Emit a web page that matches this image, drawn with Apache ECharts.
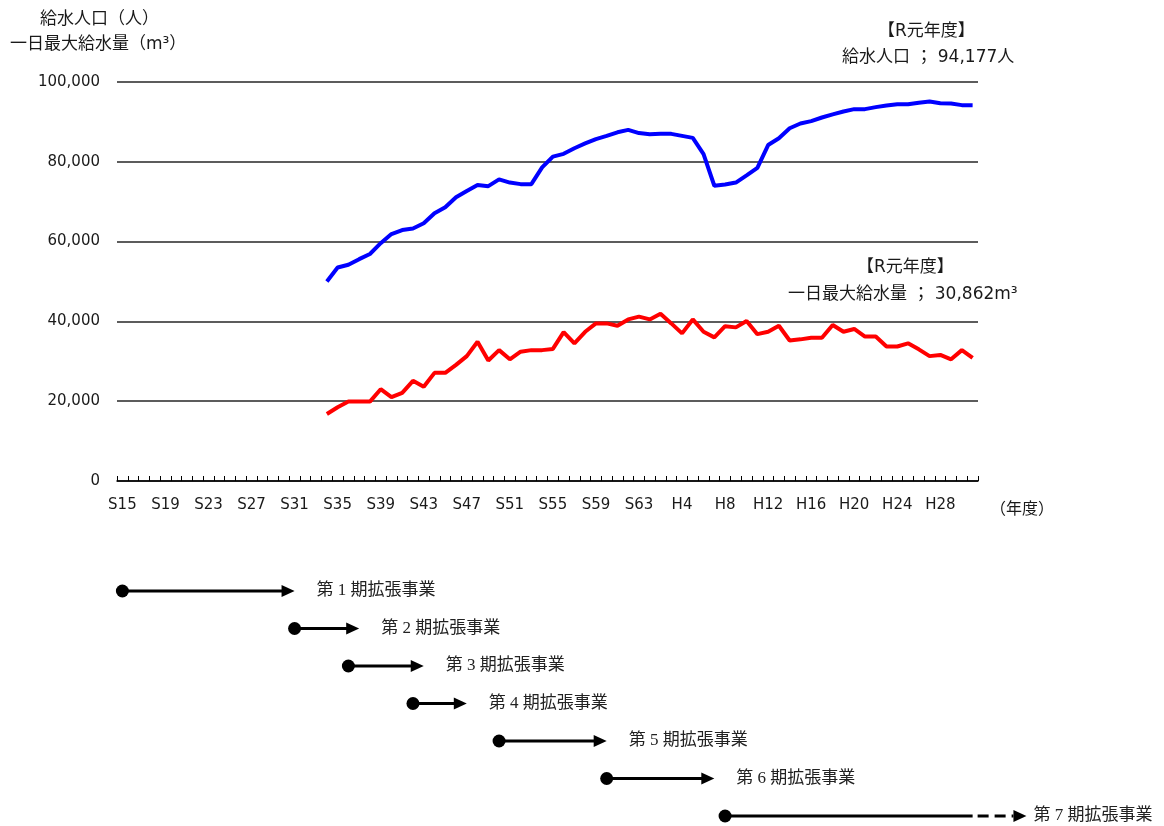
<!DOCTYPE html>
<html>
<head>
<meta charset="utf-8">
<script src="https://cdn.jsdelivr.net/npm/echarts@6/dist/echarts.min.js"></script>
<style>
html,body{margin:0;padding:0;background:#fff;}
#chart{width:1164px;height:826px;}
</style>
</head>
<body>
<div id="chart"></div>
<script>
// ---- categories (fiscal years S15 = 1940 ... R1 = 2019) ----
const categories = [
 'S15','S16','S17','S18','S19','S20','S21','S22','S23','S24',
 'S25','S26','S27','S28','S29','S30','S31','S32','S33','S34',
 'S35','S36','S37','S38','S39','S40','S41','S42','S43','S44',
 'S45','S46','S47','S48','S49','S50','S51','S52','S53','S54',
 'S55','S56','S57','S58','S59','S60','S61','S62','S63','H1',
 'H2','H3','H4','H5','H6','H7','H8','H9','H10','H11',
 'H12','H13','H14','H15','H16','H17','H18','H19','H20','H21',
 'H22','H23','H24','H25','H26','H27','H28','H29','H30','R1'
];
const firstYear = 1940;
const dataStartYear = 1959; // S34

// 給水人口（人）, S34 .. R1
const population = [
 50000, 53500, 54200, 55600, 56900, 59600, 61900, 62900, 63300, 64600,
 67100, 68600, 71100, 72700, 74200, 73900, 75600, 74800, 74400, 74400,
 78600, 81300, 82000, 83400, 84600, 85700, 86500, 87400, 88000, 87200,
 86900, 87000, 87000, 86500, 86000, 81900, 74000, 74300, 74800, 76600,
 78500, 84200, 85900, 88400, 89600, 90200, 91100, 91900, 92600, 93200,
 93200, 93700, 94100, 94400, 94400, 94800, 95100, 94700, 94600, 94200,
 94177
];
// 一日最大給水量（m3）, S34 .. R1
const maxDaily = [
 16800, 18500, 19900, 19900, 19900, 23000, 21000, 22100, 25100, 23600,
 27100, 27100, 29100, 31300, 34900, 30200, 32800, 30500, 32400, 32800,
 32800, 33100, 37300, 34500, 37400, 39500, 39500, 38900, 40500, 41200,
 40500, 41900, 39500, 37000, 40500, 37400, 36000, 38800, 38500, 40100,
 36800, 37400, 38900, 35200, 35500, 35900, 35900, 39100, 37400, 38100,
 36200, 36200, 33700, 33700, 34500, 33000, 31300, 31600, 30500, 32800,
 30862
];
const yTicks = [0, 20000, 40000, 60000, 80000, 100000];

// 拡張事業 timeline
const projectNames = ['第 1 期拡張事業','第 2 期拡張事業','第 3 期拡張事業','第 4 期拡張事業','第 5 期拡張事業','第 6 期拡張事業','第 7 期拡張事業'];
const projectStart = [1940, 1956, 1961, 1967, 1975, 1985, 1996];
const projectEnd   = [1956, 1962, 1968, 1972, 1985, 1995, 2019];
const projectPlannedEnd = [null, null, null, null, null, null, 2024];

// ---- build series data ----
const pad = Array(dataStartYear - firstYear).fill(null);
const popData = pad.concat(population);
const maxData = pad.concat(maxDaily);
const timelineData = projectNames.map((n, i) => [projectStart[i], projectEnd[i], i]);

const JP = '"DejaVu Sans", "Noto Sans CJK JP", sans-serif';
const NUM = '"DejaVu Sans", "Noto Sans CJK JP", sans-serif';
const TXT = '#1a1a1a';

const chart = echarts.init(document.getElementById('chart'));
chart.setOption({
  animation: false,
  backgroundColor: '#fff',
  grid: [
    {left: 117, right: 186, top: 82, bottom: 345},
    {left: 117, right: 186, top: 591, bottom: 10}
  ],
  xAxis: [
    {
      type: 'category', gridIndex: 0, data: categories, boundaryGap: true,
      axisLine: {show: true, lineStyle: {color: '#000', width: 1.5}},
      axisTick: {show: true, inside: true, length: 5, interval: 0, alignWithLabel: false,
        lineStyle: {color: '#000', width: 1}},
      axisLabel: {interval: 3, margin: 17, fontSize: 15, color: TXT, fontFamily: NUM}
    },
    {type: 'value', gridIndex: 1, min: firstYear - 0.5, max: firstYear + categories.length - 0.5, show: false}
  ],
  yAxis: [
    {
      type: 'value', gridIndex: 0, min: yTicks[0], max: yTicks[yTicks.length - 1],
      interval: yTicks[1] - yTicks[0],
      axisLine: {show: false}, axisTick: {show: false},
      splitLine: {lineStyle: {color: '#262626', width: 1.5}},
      axisLabel: {margin: 17, fontSize: 15, color: TXT, fontFamily: NUM,
        formatter: v => v.toLocaleString('en-US')}
    },
    {type: 'value', gridIndex: 1, min: 0, max: projectNames.length - 1, inverse: true, show: false}
  ],
  series: [
    {
      name: '給水人口', type: 'line', xAxisIndex: 0, yAxisIndex: 0, data: popData,
      symbol: 'none', connectNulls: false,
      lineStyle: {color: '#0000ff', width: 4}, z: 3
    },
    {
      name: '一日最大給水量', type: 'line', xAxisIndex: 0, yAxisIndex: 0, data: maxData,
      symbol: 'none', connectNulls: false,
      lineStyle: {color: '#ff0000', width: 4}, z: 3
    },
    {
      type: 'custom', xAxisIndex: 1, yAxisIndex: 1, clip: false,
      data: timelineData,
      encode: {x: [0, 1], y: 2},
      renderItem: function (params, api) {
        const i = params.dataIndex;
        const row = api.value(2);
        const p0 = api.coord([api.value(0), row]);
        const p1 = api.coord([api.value(1), row]);
        const y = p0[1];
        const planned = projectPlannedEnd[i];
        const tip = planned != null ? api.coord([planned, row])[0] : p1[0];
        const AL = 13, AH = 6;
        const children = [];
        const ls = {stroke: '#000', lineWidth: 3};
        if (planned != null) {
          children.push({type: 'line', shape: {x1: p0[0], y1: y, x2: p1[0], y2: y}, style: ls});
          children.push({type: 'line', shape: {x1: p1[0] + 5, y1: y, x2: tip - AL, y2: y},
            style: {stroke: '#000', lineWidth: 3, lineDash: [11, 6]}});
        } else {
          children.push({type: 'line', shape: {x1: p0[0], y1: y, x2: tip - AL + 1, y2: y}, style: ls});
        }
        children.push({type: 'circle', shape: {cx: p0[0], cy: y, r: 6.5}, style: {fill: '#000'}});
        children.push({type: 'polygon', shape: {points: [[tip - AL, y - AH], [tip, y], [tip - AL, y + AH]]}, style: {fill: '#000'}});
        children.push({type: 'text', x: tip + (planned != null ? 7 : 22), y: y,
          style: {text: projectNames[i], fill: '#222', font: '17px "Liberation Serif", "Noto Sans CJK JP", serif',
            textAlign: 'left', textVerticalAlign: 'middle'}});
        return {type: 'group', children: children};
      }
    }
  ],
  graphic: [
    {type: 'text', left: 40, top: 11, style: {text: '給水人口（人）', font: '17px ' + JP, fill: TXT}},
    {type: 'text', left: 10, top: 36, style: {text: '一日最大給水量（m³）', font: '17px ' + JP, fill: TXT}},
    {type: 'text', left: 878, top: 23, style: {text: '【R元年度】', font: '17px ' + JP, fill: TXT}},
    {type: 'text', left: 842, top: 49, style: {text: '給水人口 ； 94,177人', font: '17px ' + JP, fill: TXT}},
    {type: 'text', left: 857, top: 259, style: {text: '【R元年度】', font: '17px ' + JP, fill: TXT}},
    {type: 'text', left: 788, top: 286, style: {text: '一日最大給水量 ； 30,862m³', font: '17px ' + JP, fill: TXT}},
    {type: 'text', left: 990, top: 502, style: {text: '（年度）', font: '16px ' + JP, fill: TXT}}
  ]
});
</script>
</body>
</html>
